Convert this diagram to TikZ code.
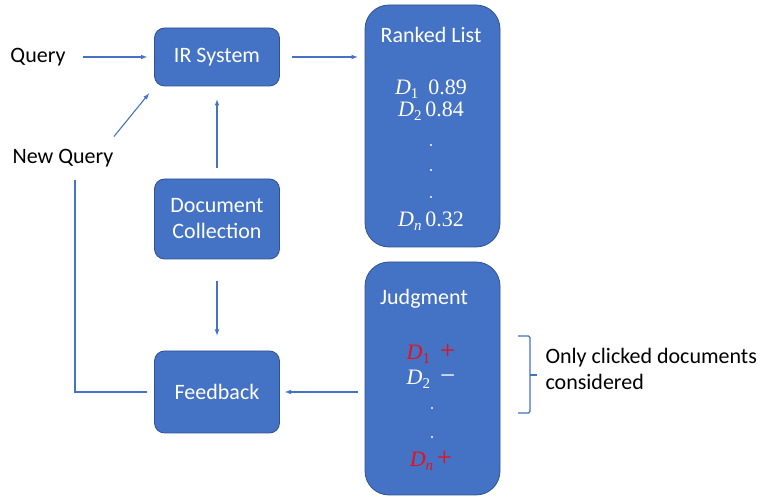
\documentclass[tikz,border=0pt]{standalone}
\usepackage{fontspec}
\setmainfont{Carlito}
\newfontfamily\mathserif{Liberation Serif}
\definecolor{boxblue}{HTML}{4472C4}
\definecolor{edgeblue}{HTML}{2F528F}
\definecolor{markred}{HTML}{E8101A}
\newcommand{\docd}[1]{{\mathserif\itshape D}\raisebox{-0.35ex}{\mathserif\fontsize{15}{15}\selectfont #1}}
\newcommand{\jsign}[1]{{\mathserif\fontsize{27}{27}\selectfont #1}}
\begin{document}
\begin{tikzpicture}[x=1pt,y=1pt,
  every node/.style={font=\fontsize{22}{26}\selectfont},
  block/.style={draw=edgeblue,fill=boxblue,text=white,rounded corners=10pt,minimum width=125pt,align=center,line width=0.8pt},
  panel/.style={block,rounded corners=24pt,minimum width=135pt},
  arr/.style={-latex,boxblue,line width=1.1pt}]
  \useasboundingbox (0,0) rectangle (764,498);
  % Boxes
  \node[block,minimum height=58pt] (irsys) at (217,441) {IR System};
  \node[block,minimum height=80pt] (doccoll) at (217,279) {Document\\Collection};
  \node[block,minimum height=82pt] (feedback) at (217,106) {Feedback};
  \node[panel,minimum height=242pt] (ranked) at (432.5,372) {};
  \node[panel,minimum height=233pt] (judgment) at (432.5,119.5) {};
  % Free labels
  \node (query) at (38,441) {Query};
  \node (newquery) at (63,340) {New Query};
  % Ranked list entries
  \node[text=white] (rtitle) at (431,463) {Ranked List};
  \node[text=white] (r1) at (431,409) {\docd{1}\ \ {\mathserif 0.89}};
  \node[text=white] (r2) at (431,387) {\docd{2}\,{\mathserif 0.84}};
  \node[text=white] (rn) at (431,277) {\docd{\itshape n}\,{\mathserif 0.32}};
  \foreach \y in {353,328,301} {\fill[white] (431,\y) circle (1.1pt);}
  % Judgment entries
  \node[text=white] (jtitle) at (424,199) {Judgment};
  \node[text=markred] (j1) at (431,144) {\docd{1}\ \ \jsign{+}};
  \node[text=white] (j2) at (431,119) {\docd{2}\ \ \jsign{−}};
  \node[text=markred] (jn) at (431,37) {\docd{\itshape n}\,\jsign{+}};
  \foreach \y in {90,61} {\fill[white] (432,\y) circle (1.1pt);}
  % Arrows
  \draw[arr,shorten <=14pt,shorten >=7pt] (query) -- (irsys);
  \draw[arr,shorten <=12pt,shorten >=7pt] (irsys.east) -- (irsys.east -| ranked.west);
  \draw[arr] ([shift={(-3,9)}]newquery.north east) -- ([shift={(-5,-7)}]irsys.south west);
  \draw[arr,shorten <=11pt,shorten >=13pt] (doccoll) -- (irsys);
  \draw[arr,shorten <=22pt,shorten >=15pt] (doccoll) -- (feedback);
  \draw[arr,shorten <=7pt,shorten >=5pt] (judgment.west |- feedback.east) -- (feedback.east);
  \draw[boxblue,line width=1.1pt] ([xshift=-7pt]feedback.west) -| ([shift={(12,-10)}]newquery.south);
  % Bracket
  \draw[boxblue,line width=1.1pt,rounded corners=1.5pt] (518,162) -- (530,162) -- (530,85) -- (518,85);
  \draw[boxblue,line width=1.1pt] (530,123) -- (537,123);
  \node[anchor=west,align=left] (note) at (542,129) {Only clicked documents\\considered};
\end{tikzpicture}
\end{document}
